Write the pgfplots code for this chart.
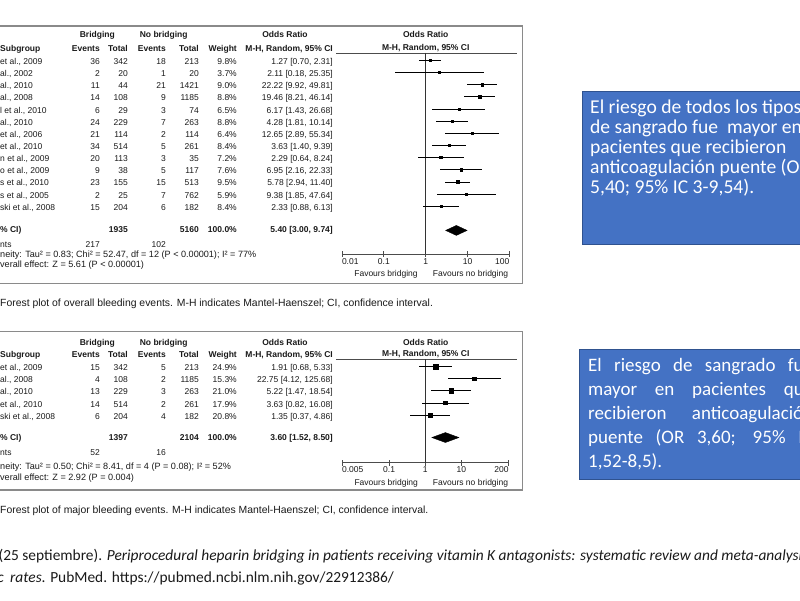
\documentclass[border=0pt]{standalone}
\usepackage{fontspec}
\setmainfont{Liberation Sans}
\newfontfamily\calibri{Carlito}
\usepackage{pgfplots}
\usepackage{pgfplotstable}
\pgfplotsset{compat=1.18}

\definecolor{slideblue}{HTML}{4472C4}
\definecolor{slideedge}{HTML}{2F528F}
\definecolor{ink}{HTML}{1A1A1A}
\definecolor{framegray}{HTML}{8A8A8A}

% overall bleeding: row, odds ratio, 95% CI, weight (%)
\pgfplotstableread{
row or lo hi w
1 1.27 0.70 2.31 9.8
2 2.11 0.18 25.35 3.7
3 22.22 9.92 49.81 9.0
4 19.46 8.21 46.14 8.8
5 6.17 1.43 26.68 6.5
6 4.28 1.81 10.14 8.8
7 12.65 2.89 55.34 6.4
8 3.63 1.40 9.39 8.4
9 2.29 0.64 8.24 7.2
10 6.95 2.16 22.33 7.6
11 5.78 2.94 11.40 9.5
12 9.38 1.85 47.64 5.9
13 2.33 0.88 6.13 8.4
}\overall
\pgfplotstableread{
x y
3.00 15
5.40 14.59
9.74 15
5.40 15.41
}\overalltotal

% major bleeding
\pgfplotstableread{
row or lo hi w
1 1.91 0.68 5.33 24.9
2 22.75 4.12 125.68 15.3
3 5.22 1.47 18.54 21.0
4 3.63 0.82 16.08 17.9
5 1.35 0.37 4.86 20.8
}\major
\pgfplotstableread{
x y
1.52 6.87
3.60 6.46
8.50 6.87
3.60 7.28
}\majortotal

\newcommand\tf{\fontsize{8.5}{10}\selectfont}
\newcommand\hf{\fontsize{9.1}{10}\selectfont}

\begin{document}
\begin{tikzpicture}[x=1pt,y=1pt]
\useasboundingbox (0,0) rectangle (800,600);
\fill[white] (0,0) rectangle (800,600);
\clip (0,0) rectangle (800,600);

% ---------- top panel: overall bleeding ----------
\draw[framegray, line width=1.2pt] (-2,600-26) -- (522.7,600-26) -- (522.7,600-283.3) -- (-2,600-283.3);
\draw[black!70, line width=0.8pt] (336,600-53) -- (517,600-53);

\begin{axis}[scale only axis, anchor=south west, xmode=log,
  axis x line*=bottom, axis y line=none, clip=false,
  x axis line style={draw=black!70, line width=0.8pt},
  xtick style={draw=black!70, line width=0.8pt},
  tick align=center, major tick length=6pt, xminorticks=false,
  xticklabel style={font=\tf, text=ink, inner sep=0pt, yshift=-1pt},
  at={(342pt,346pt)}, width=167.4pt, height=201pt,
  xmin=0.01, xmax=100, ymin=-16.94, ymax=-0.399,
  xtick={0.01,0.1,1,10,100}, xticklabels={\rlap{0.01},0.1,1,10,\llap{100}}]
\addplot[black!80, line width=0.8pt] coordinates {(1,-0.399) (1,-16.94)};
\addplot[scatter, only marks, mark=square*,
  scatter/use mapped color={draw=none, fill=black},
  visualization depends on={0.55+0.075*\thisrow{w} \as \msz},
  scatter/@pre marker code/.append style={/tikz/mark size=\msz},
  error bars/x dir=both, error bars/x explicit, error bars/error mark=none,
  error bars/error bar style={black, line width=0.6pt}]
  table[x=or, y expr=-\thisrow{row},
  x error plus expr=\thisrow{hi}-\thisrow{or},
  x error minus expr=\thisrow{or}-\thisrow{lo}] {\overall};
\addplot[fill=black, draw=black] table[x=x, y expr=-\thisrow{y}] {\overalltotal} -- cycle;
\end{axis}

\begin{scope}[every node/.style={inner sep=0pt, text=ink, font=\tf}]
\node[anchor=base, font=\tf\bfseries] at (97.3,600-38) {Bridging};
\node[anchor=base, font=\tf\bfseries] at (163.7,600-38) {No bridging};
\node[anchor=base, font=\tf\bfseries] at (285,600-38) {Odds Ratio};
\node[anchor=base, font=\tf\bfseries] at (425.7,600-38) {Odds Ratio};
\node[anchor=base west, font=\tf\bfseries] at (0,600-52) {Subgroup};
\node[anchor=base east, font=\tf\bfseries] at (100,600-52) {Events};
\node[anchor=base east, font=\tf\bfseries] at (128,600-52) {Total};
\node[anchor=base east, font=\tf\bfseries] at (166,600-52) {Events};
\node[anchor=base east, font=\tf\bfseries] at (199,600-52) {Total};
\node[anchor=base east, font=\tf\bfseries] at (237,600-52) {Weight};
\node[anchor=base east, font=\tf\bfseries] at (333,600-52) {M-H, Random, 95\% CI};
\node[anchor=base, font=\tf\bfseries] at (425.7,600-50.5) {M-H, Random, 95\% CI};
\foreach \r/\nm/\ea/\ta/\eb/\tb/\wt/\ci in {
 1/{et al., 2009}/36/342/18/213/9.8\%/{1.27 [0.70, 2.31]},
 2/{al., 2002}/2/20/1/20/3.7\%/{2.11 [0.18, 25.35]},
 3/{al., 2010}/11/44/21/1421/9.0\%/{22.22 [9.92, 49.81]},
 4/{ al., 2008}/14/108/9/1185/8.8\%/{19.46 [8.21, 46.14]},
 5/{l et al., 2010}/6/29/3/74/6.5\%/{6.17 [1.43, 26.68]},
 6/{al., 2010}/24/229/7/263/8.8\%/{4.28 [1.81, 10.14]},
 7/{et al., 2006}/21/114/2/114/6.4\%/{12.65 [2.89, 55.34]},
 8/{et al., 2010}/34/514/5/261/8.4\%/{3.63 [1.40, 9.39]},
 9/{n et al., 2009}/20/113/3/35/7.2\%/{2.29 [0.64, 8.24]},
 10/{o et al., 2009}/9/38/5/117/7.6\%/{6.95 [2.16, 22.33]},
 11/{s et al., 2010}/23/155/15/513/9.5\%/{5.78 [2.94, 11.40]},
 12/{s et al., 2005}/2/25/7/762/5.9\%/{9.38 [1.85, 47.64]},
 13/{ski et al., 2008}/15/204/6/182/8.4\%/{2.33 [0.88, 6.13]}}{
  \pgfmathsetmacro\yb{600-(52.35+12.15*\r)}
  \node[anchor=base west] at (0,\yb) {\nm};
  \node[anchor=base east] at (100,\yb) {\ea};
  \node[anchor=base east] at (128,\yb) {\ta};
  \node[anchor=base east] at (166,\yb) {\eb};
  \node[anchor=base east] at (199,\yb) {\tb};
  \node[anchor=base east] at (237,\yb) {\wt};
  \node[anchor=base east] at (333,\yb) {\ci};
}
\node[anchor=base west, font=\tf\bfseries] at (0,600-233) {\% CI)};
\node[anchor=base east, font=\tf\bfseries] at (128,600-233) {1935};
\node[anchor=base east, font=\tf\bfseries] at (199,600-233) {5160};
\node[anchor=base east, font=\tf\bfseries] at (237,600-233) {100.0\%};
\node[anchor=base east, font=\tf\bfseries] at (333,600-233) {5.40 [3.00, 9.74]};
\node[anchor=base west] at (0,600-248) {nts};
\node[anchor=base east] at (100,600-248) {217};
\node[anchor=base east] at (166,600-248) {102};
\node[anchor=base west, font=\hf] at (0,600-258) {neity: Tau² = 0.83; Chi² = 52.47, df = 12 (P < 0.00001); I² = 77\%};
\node[anchor=base west, font=\hf] at (0,600-268) {verall effect: Z = 5.61 (P < 0.00001)};
\node[anchor=base] at (386,600-276.3) {Favours bridging};
\node[anchor=base] at (470.5,600-276.3) {Favours no bridging};
\node[anchor=base west, font=\fontsize{10.4}{12}\selectfont] at (0,600-306.6) {Forest plot of overall bleeding events. M-H indicates Mantel-Haenszel; CI, confidence interval.};
\end{scope}

% ---------- bottom panel: major bleeding ----------
\draw[framegray, line width=1.2pt] (-2,600-331.7) -- (522.7,600-331.7) -- (522.7,600-490) -- (-2,600-490);
\draw[black!70, line width=0.8pt] (336,600-359.3) -- (517,600-359.3);

\begin{axis}[scale only axis, anchor=south west, xmode=log,
  axis x line*=bottom, axis y line=none, clip=false,
  x axis line style={draw=black!70, line width=0.8pt},
  xtick style={draw=black!70, line width=0.8pt},
  tick align=center, major tick length=6pt, xminorticks=false,
  xticklabel style={font=\tf, text=ink, inner sep=0pt, yshift=-1pt},
  at={(342.1pt,137.3pt)}, width=166.4pt, height=103.4pt,
  xmin=0.005, xmax=200, ymin=-8.95, ymax=-0.405,
  xtick={0.005,0.1,1,10,200}, xticklabels={\rlap{0.005},0.1,1,10,\llap{200}}]
\addplot[black!80, line width=0.8pt] coordinates {(1,-0.405) (1,-8.95)};
\addplot[scatter, only marks, mark=square*,
  scatter/use mapped color={draw=none, fill=black},
  visualization depends on={0.55+0.075*\thisrow{w} \as \msz},
  scatter/@pre marker code/.append style={/tikz/mark size=\msz},
  error bars/x dir=both, error bars/x explicit, error bars/error mark=none,
  error bars/error bar style={black, line width=0.6pt}]
  table[x=or, y expr=-\thisrow{row},
  x error plus expr=\thisrow{hi}-\thisrow{or},
  x error minus expr=\thisrow{or}-\thisrow{lo}] {\major};
\addplot[fill=black, draw=black] table[x=x, y expr=-\thisrow{y}] {\majortotal} -- cycle;
\end{axis}

\begin{scope}[every node/.style={inner sep=0pt, text=ink, font=\tf}]
\node[anchor=base, font=\tf\bfseries] at (97.3,600-345.7) {Bridging};
\node[anchor=base, font=\tf\bfseries] at (163.7,600-345.7) {No bridging};
\node[anchor=base, font=\tf\bfseries] at (285,600-345.7) {Odds Ratio};
\node[anchor=base, font=\tf\bfseries] at (425.7,600-345.7) {Odds Ratio};
\node[anchor=base west, font=\tf\bfseries] at (0,600-357.3) {Subgroup};
\node[anchor=base east, font=\tf\bfseries] at (100,600-357.3) {Events};
\node[anchor=base east, font=\tf\bfseries] at (128,600-357.3) {Total};
\node[anchor=base east, font=\tf\bfseries] at (166,600-357.3) {Events};
\node[anchor=base east, font=\tf\bfseries] at (199,600-357.3) {Total};
\node[anchor=base east, font=\tf\bfseries] at (237,600-357.3) {Weight};
\node[anchor=base east, font=\tf\bfseries] at (333,600-357.3) {M-H, Random, 95\% CI};
\node[anchor=base, font=\tf\bfseries] at (425.7,600-356.5) {M-H, Random, 95\% CI};
\foreach \r/\nm/\ea/\ta/\eb/\tb/\wt/\ci in {
 1/{et al., 2009}/15/342/5/213/24.9\%/{1.91 [0.68, 5.33]},
 2/{ al., 2008}/4/108/2/1185/15.3\%/{22.75 [4.12, 125.68]},
 3/{al., 2010}/13/229/3/263/21.0\%/{5.22 [1.47, 18.54]},
 4/{et al., 2010}/14/514/2/261/17.9\%/{3.63 [0.82, 16.08]},
 5/{ski et al., 2008}/6/204/4/182/20.8\%/{1.35 [0.37, 4.86]}}{
  \pgfmathsetmacro\yb{600-(358.6+12.1*\r)}
  \node[anchor=base west] at (0,\yb) {\nm};
  \node[anchor=base east] at (100,\yb) {\ea};
  \node[anchor=base east] at (128,\yb) {\ta};
  \node[anchor=base east] at (166,\yb) {\eb};
  \node[anchor=base east] at (199,\yb) {\tb};
  \node[anchor=base east] at (237,\yb) {\wt};
  \node[anchor=base east] at (333,\yb) {\ci};
}
\node[anchor=base west, font=\tf\bfseries] at (0,600-440.3) {\% CI)};
\node[anchor=base east, font=\tf\bfseries] at (128,600-440.3) {1397};
\node[anchor=base east, font=\tf\bfseries] at (199,600-440.3) {2104};
\node[anchor=base east, font=\tf\bfseries] at (237,600-440.3) {100.0\%};
\node[anchor=base east, font=\tf\bfseries] at (333,600-440.3) {3.60 [1.52, 8.50]};
\node[anchor=base west] at (0,600-455.7) {nts};
\node[anchor=base east] at (100,600-455.7) {52};
\node[anchor=base east] at (166,600-455.7) {16};
\node[anchor=base west, font=\hf] at (0,600-469) {neity: Tau² = 0.50; Chi² = 8.41, df = 4 (P = 0.08); I² = 52\%};
\node[anchor=base west, font=\hf] at (0,600-480) {verall effect: Z = 2.92 (P = 0.004)};
\node[anchor=base] at (386.2,600-485.3) {Favours bridging};
\node[anchor=base] at (470.5,600-485.3) {Favours no bridging};
\node[anchor=base west, font=\fontsize{10.4}{12}\selectfont] at (0,600-513.6) {Forest plot of major bleeding events. M-H indicates Mantel-Haenszel; CI, confidence interval.};
\end{scope}

% ---------- text boxes ----------
\filldraw[fill=slideblue, draw=slideedge, line width=1pt] (582.7,600-91.7) rectangle (806,600-245);
\begin{scope}[every node/.style={inner sep=0pt, text=white, anchor=base west, font=\calibri\fontsize{19.6}{22}\selectfont}]
\node at (590,600-113.2) {El riesgo de todos los tipos};
\node at (590,600-133.7) {de sangrado fue \ mayor en};
\node at (590,600-153.7) {pacientes que recibieron};
\node at (590,600-174) {anticoagulación puente (OR};
\node at (590,600-194) {5,40; 95\% IC 3-9,54).};
\end{scope}

\filldraw[fill=slideblue, draw=slideedge, line width=1pt] (579,600-350) rectangle (806,600-479.3);
\begin{scope}[every node/.style={inner sep=0pt, text=white, anchor=base west, font=\calibri\fontsize{19}{22}\selectfont}]
\node at (588,600-371.1) {\makebox[225pt][s]{El riesgo de sangrado fue}};
\node at (588,600-395.4) {\makebox[225pt][s]{mayor en pacientes que}};
\node at (588,600-419.4) {\makebox[225pt][s]{recibieron anticoagulación}};
\node at (588,600-443.7) {\makebox[225pt][s]{puente (OR 3,60; 95\% IC}};
\node at (588,600-467.7) {1,52-8,5).};
\end{scope}

% ---------- reference ----------
\begin{scope}[every node/.style={inner sep=0pt, text=ink, font=\calibri\fontsize{15.4}{18}\selectfont}]
\node[anchor=base west] at (-1.5,600-560) {(25 septiembre). \textit{Periprocedural heparin bridging in patients receiving vitamin K antagonists: systematic review and meta-analysis of bleeding and thromboembolic}};
\node[anchor=base east] at (4,600-582) {\textit{thromboembolic}};
\node[anchor=base west] at (10,600-582) {\textit{rates}. PubMed. https://pubmed.ncbi.nlm.nih.gov/22912386/};
\end{scope}
\end{tikzpicture}
\end{document}
